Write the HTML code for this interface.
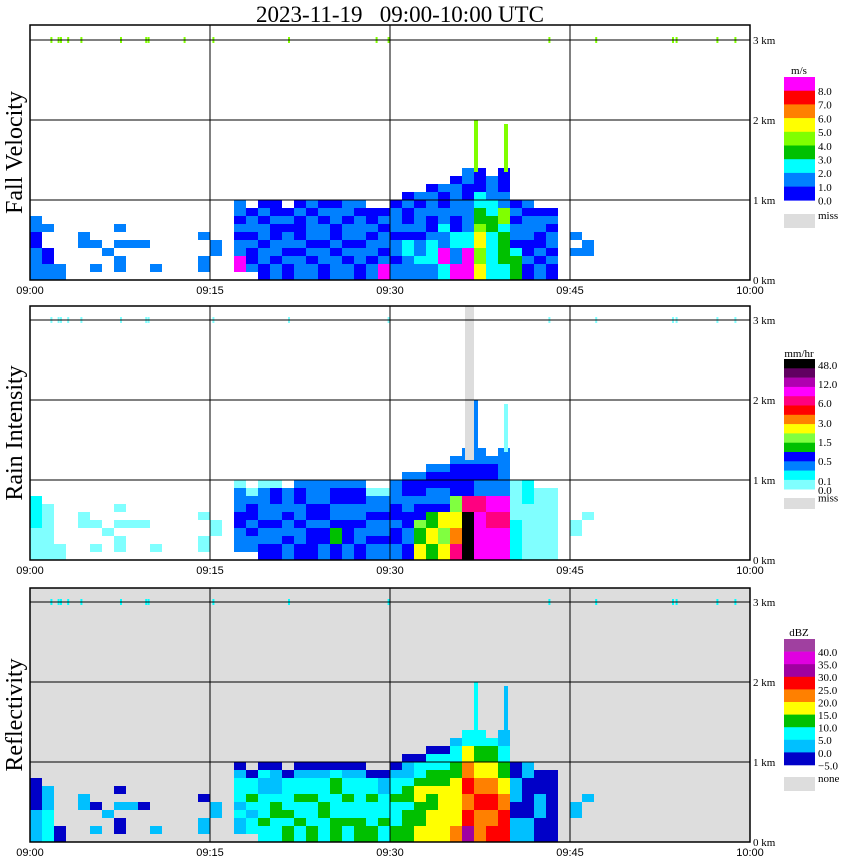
<!DOCTYPE html>
<html><head><meta charset="utf-8">
<style>
body{margin:0;background:#fff;width:850px;height:868px;overflow:hidden;font-family:"Liberation Serif",serif;}
svg{position:absolute;left:0;top:0;}
</style></head>
<body>
<svg id="chart" width="850" height="868" xmlns="http://www.w3.org/2000/svg" font-family="Liberation Serif, serif">
<text x="400" y="22" font-size="23" text-anchor="middle" style="white-space:pre">2023-11-19   09:00-10:00 UTC</text>
</svg>
<script>
// ---- data ----
const timeTicks = ["09:00","09:15","09:30","09:45","10:00"];
const tickMinutes = [0,15,30,45,60];
const heightTicks = ["0 km","1 km","2 km","3 km"];
const heightKm = [0,1,2,3];
// echo top / bottom per minute (km), minutes 0..59
const echoTop = [0.75,0.7,0.3,0,0.8,0.6,0.5,0.7,0.5,0.6,0.4,0,0,0,0.55,0.5,0,0.95,0.9,0.95,0.95,0.9,0.95,0.95,1.0,0.95,1.0,0.95,0.9,0.85,0.95,1.05,1.1,1.15,1.2,1.25,1.4,1.35,1.3,1.35,1.0,0.95,0.9,0.85,0,0.6,0.55,0,0,0,0,0,0,0,0,0,0,0,0,0];
const echoBottom = [0,0,0,0,0.2,0.1,0.2,0.1,0.2,0.3,0.1,0,0,0,0.1,0,0,0.1,0.05,0,0,0,0,0,0,0,0,0,0,0,0,0,0,0,0,0,0,0,0,0,0,0,0,0,0,0.3,0.3,0,0,0,0,0,0,0,0,0,0,0,0,0];
// thin tall spikes: minute position, top km
const spikeMinutes = [37.0, 39.5];
const spikeTops = [2.0, 1.95];
const velSpikeClass = ["4","4"];
const rainSpikeClass = ["c","a"];
const reflSpikeClass = ["C","B"];
// fall velocity class patterns (bottom->top), '.' = none
const velPattern = ["1101","10.1","1.","","..1.1..1","1..1.",".1..","1.1.1","..1.",".1.1","1..","","","","1.1",".1","","81101011","10010110","01101010","10110100","01011010","11010010","10101101","01101010","11010110","10101011","01101101","10110100","81011010","1010110","11201010","12101101","12210110","2812101","8120110","8821101","54543200","2223211","23324100","33201010","0101101","1010110","0101010","","1.1","1.","","","","","","","","","","","","",""];
// rain intensity class patterns
const rainPattern = ["ab","aa","a.","","..a.a..a","a..a.",".a..","a.a.a","..a.",".a.a","a..","","","","a.a",".a","","ccdcca","cdcdca","dcdcca","dcdcda","cdcdcc","dcdcdc","ddcdcc","cdcdcc","dedcdc","cddcdc","dcdcdc","cdcdca","cdcdca","cdcdcc","dcdcdc","gefdcdc","egedcdc","gfgdcdc","jhgfddc","nnnjddc","kkkjcdc","kkjkcdc","kkjkccc","bbaa","aab","aaa","aa","","a.",".a","","","","","","","","","","","","",""];
// reflectivity class patterns
const reflPattern = ["BA","CB","A.","","..B.B..A","B..A.",".B..","A.B.A","..B.",".A.B","B..","","","","B.A",".B","","BCBCCBA","CBCDCCA","CDCCBCA","CCDCBBA","DCDCCCA","CDCDCBA","DCCDCBA","CCDCCBA","DDCCDCA","CDCDCBA","DDCCCBA","DCCDCA","CDCCBA","DCCDCBA","DDCDCBA","EDDEDCA","EEDEDCA","EEEEDCA","FEEEDCB","HGFGFEC","FFGFEDC","GFGFEDC","GGFEDCB","BABA","BAAB","ABA","AA","","B.",".B","","","","","","","","","","","","",""];
// scattered 3 km returns (minutes)
const topDotsVel = [1.7,2.3,2.5,3.1,4.2,7.5,9.6,9.8,12.8,15.2,21.5,28.8,29.8,43.2,47.1,53.5,53.8,57.2,58.7];
const topDotsRain = [1.7,2.3,2.5,3.1,4.2,7.5,9.6,9.8,15.2,21.5,29.8,43.2,47.1,53.5,53.8,57.2,58.7];
// rain missing region [startMin, endMin, bottomKm]
const rainMissing = [36.25, 37.0, 1.25];
// legends
const velColors = ["#ff00ff","#ff0000","#ff8000","#ffff00","#80ff00","#00c000","#00ffff","#0080ff","#0000ff"];
const velLabels = ["8.0","7.0","6.0","5.0","4.0","3.0","2.0","1.0","0.0"];
const rainColors = ["#000000","#600060","#b000b0","#ff00ff","#ff0080","#ff0000","#ff8000","#ffff00","#80ff40","#00c000","#0000ff","#0080ff","#00ffff","#80ffff"];
const rainLabels = ["48.0","12.0","6.0","3.0","1.5","0.5","0.1","0.0"];
const reflColors = ["#a040a0","#e000e0","#a000a0","#ff0000","#ff8000","#ffff00","#00c000","#00ffff","#00c0ff","#0000c8"];
const reflLabels = ["40.0","35.0","30.0","25.0","20.0","15.0","10.0","5.0","0.0","\u22125.0"];

const velMap = {"0":"#0000ff","1":"#0080ff","2":"#00ffff","3":"#00c000","4":"#80ff00","5":"#ffff00","6":"#ff8000","7":"#ff0000","8":"#ff00ff"};
const rainMap = {a:"#80ffff",b:"#00ffff",c:"#0080ff",d:"#0000ff",e:"#00c000",f:"#80ff40",g:"#ffff00",h:"#ff8000",i:"#ff0000",j:"#ff0080",k:"#ff00ff",l:"#b000b0",m:"#600060",n:"#000000"};
const reflMap = {A:"#0000c8",B:"#00c0ff",C:"#00ffff",D:"#00c000",E:"#ffff00",F:"#ff8000",G:"#ff0000",H:"#a000a0",I:"#e000e0",J:"#a040a0"};

const NS="http://www.w3.org/2000/svg";
const svg=document.getElementById('chart');
const X0=30,X1=750;
function xS(min){return X0+min*(X1-X0)/60;}
function mk(tag,attrs){const e=document.createElementNS(NS,tag);for(const k in attrs)e.setAttribute(k,attrs[k]);return e;}

const panels=[
 {top:25,base:280,title:"Fall Velocity",pat:velPattern,map:velMap,spike:velSpikeClass,bg:"#ffffff",dots:topDotsVel,dotColor:"#80ff00",name:"fall-velocity"},
 {top:306,base:560,title:"Rain Intensity",pat:rainPattern,map:rainMap,spike:rainSpikeClass,bg:"#ffffff",dots:topDotsRain,dotColor:"#80ffff",name:"rain-intensity"},
 {top:588,base:842,title:"Reflectivity",pat:reflPattern,map:reflMap,spike:reflSpikeClass,bg:"#dddddd",dots:topDotsRain,dotColor:"#00ffff",name:"reflectivity"}
];

panels.forEach((p,pi)=>{
  const yS=km=>p.base-km*80;
  const g=mk('g',{});
  
  
  svg.appendChild(g);
  const bg=mk('rect',{x:X0,y:p.top,width:X1-X0,height:p.base-p.top,fill:p.bg});
  
  
  g.appendChild(bg);
  for(let m=0;m<60;m++){
    const pat=p.pat[m]; if(!pat||echoTop[m]<=0) continue;
    const r0=Math.round(echoBottom[m]*10), r1=Math.round(echoTop[m]*10);
    const n=r1-r0;
    for(let r=r0;r<r1;r++){
      const c=pat[Math.min(pat.length-1,Math.floor((r-r0)/n*pat.length))];
      if(c==='.'||!p.map[c]) continue;
      const cell=mk('rect',{x:xS(m),y:yS((r+1)/10),width:12,height:8,fill:p.map[c]});
      
      
      g.appendChild(cell);
    }
  }
  spikeMinutes.forEach((sm,i)=>{
    const base=echoTop[Math.floor(sm)];
    const s=mk('rect',{x:xS(sm),y:yS(spikeTops[i]),width:4,height:yS(base)-yS(spikeTops[i]),fill:p.map[p.spike[i]]});
    
    
    g.appendChild(s);
  });
  if(pi===1){
    const miss=mk('rect',{x:xS(rainMissing[0]),y:p.top,width:xS(rainMissing[1])-xS(rainMissing[0]),height:yS(rainMissing[2])-p.top,fill:"#dddddd"});
    
    
    g.appendChild(miss);
  }
  p.dots.forEach(d=>{
    const dot=mk('rect',{x:xS(d),y:yS(3)-3,width:2,height:6,fill:p.dotColor});
    
    
    g.appendChild(dot);
  });
  heightKm.forEach((h,i)=>{
    if(h>0){
      const ln=mk('line',{x1:X0,x2:X1,y1:yS(h),y2:yS(h),stroke:"#000","stroke-width":1});
      
      
      g.appendChild(ln);
    }
    const t=mk('text',{x:753,y:yS(h)+4,"font-size":11});
    t.textContent=heightTicks[i];
    
    
    g.appendChild(t);
  });
  tickMinutes.forEach((m,i)=>{
    if(m>0&&m<60){
      const ln=mk('line',{x1:xS(m),x2:xS(m),y1:p.top,y2:p.base,stroke:"#000","stroke-width":1});
      
      
      g.appendChild(ln);
    }
    const t=mk('text',{x:xS(m),y:p.base+14,"font-size":11,"text-anchor":"middle","font-family":"Liberation Sans, sans-serif"});
    t.textContent=timeTicks[i];
    
    
    g.appendChild(t);
  });
  const fr=mk('rect',{x:X0,y:p.top,width:X1-X0,height:p.base-p.top,fill:"none",stroke:"#000","stroke-width":1.5});
  
  
  g.appendChild(fr);
  const cy=(p.top+p.base)/2;
  const tt=mk('text',{x:22,y:cy,"font-size":24,"text-anchor":"middle",transform:`rotate(-90 22 ${cy})`});
  tt.textContent=p.title;
  
  
  g.appendChild(tt);
});

function legend(name,unit,unitY,colors,labels,y0,boxH,labelYs,missY,missText,missH){
  const g=mk('g',{});
  
  
  svg.appendChild(g);
  const u=mk('text',{x:799,y:unitY,"font-size":11,"text-anchor":"middle"});
  u.textContent=unit;
  
  
  g.appendChild(u);
  colors.forEach((c,i)=>{
    const r=mk('rect',{x:784,y:y0+i*boxH,width:31,height:boxH+0.3,fill:c});
    
    
    g.appendChild(r);
  });
  labels.forEach((l,i)=>{
    const t=mk('text',{x:818,y:labelYs[i],"font-size":11});
    t.textContent=l;
    
    
    g.appendChild(t);
  });
  const m=mk('rect',{x:784,y:missY,width:31,height:missH,fill:"#dddddd"});
  
  
  g.appendChild(m);
  const mt=mk('text',{x:818,y:missY+missH/2-2,"font-size":11});
  mt.textContent=missText;
  
  
  g.appendChild(mt);
}
legend('fall-velocity','m/s',74,velColors,velLabels,77,13.7,velLabels.map((_,i)=>95+i*13.7),214,'miss',14);
legend('rain-intensity','mm/hr',357,rainColors,rainLabels,359,9.3,[369,388,407,427,446,465,485,494],498,'miss',11);
legend('reflectivity','dBZ',636,reflColors,reflLabels,639,12.6,reflLabels.map((_,i)=>656+i*12.6),777,'none',14);
</script>
</body></html>
